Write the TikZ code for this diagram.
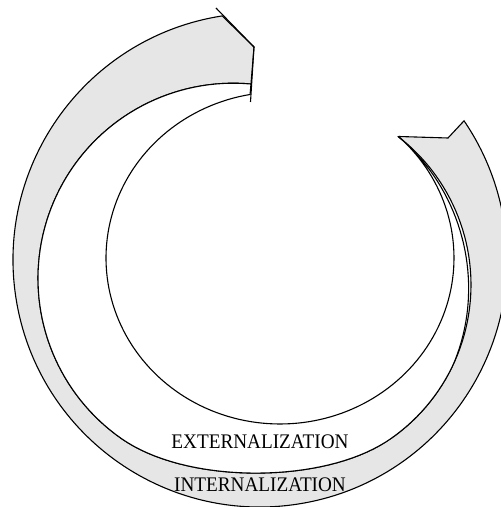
\documentclass[tikz,border=0pt]{standalone}
\usepackage{fontspec}
\setmainfont{Liberation Serif}
\usepackage{xcolor}
\usetikzlibrary{positioning}
\definecolor{bandgray}{HTML}{E6E6E6}

\tikzset{
  band/.style={draw=black, line width=1.1pt},
  cyclelabel/.style={font=\fontsize{19.2}{21}\selectfont, inner sep=0pt, yscale=1.08}
}

\begin{document}
\begin{tikzpicture}[x=1pt, y=1pt,
    declare function={
      wgt(\t) = (1-cos(180*min(1,max(0,(\t-235)/70))))/2;
      mx(\t)  = (1-wgt(\t))*(233.3+195.3*cos(\t)) + wgt(\t)*(283.5+187.5*cos(\t));
      my(\t)  = (1-wgt(\t))*(228.5+195.3*sin(\t)) + wgt(\t)*(222.1+187.5*sin(\t));
      gap(\t) = 2.8*sin(180*min(1,max(0,(\t-335)/77.2)));
    }]
  \path[use as bounding box] (0,0) rectangle (501,507);
  \clip (0,0) rectangle (501,507);
  \coordinate (co) at (260,247);
  \coordinate (headtip) at (448,369);
  \coordinate (tip) at (399,370.5);
  \coordinate (tailcorner) at (254,460);

  % outer arrow
  \filldraw[band, fill=bandgray]
    ([shift={(co)}]98.8:247) arc[start angle=98.8, end angle=394.3, radius=247]
    -- (headtip) -- (tip)
    -- plot[domain=412.2:84.8, samples=160, variable=\t] ({mx(\t)}, {my(\t)})
    -- (tailcorner) -- cycle;
  \draw[band] (tailcorner) -- (216,499);

  % inner arrow
  \filldraw[band, fill=white]
    plot[domain=84.8:412.2, samples=160, variable=\t]
      ({mx(\t)-gap(\t)*cos(\t)}, {my(\t)-gap(\t)*sin(\t)})
    -- (tip)
    -- plot[domain=406.8:99.9, samples=160, variable=\t]
         ({280+174*cos(\t)}, {249+166*sin(\t)})
    -- cycle;
  \draw[band] (tailcorner) -- (250.5,405);

  \node[cyclelabel] (ext) at (260,65) {EXTERNALIZATION};
  \node[cyclelabel] (int) at (260,22) {INTERNALIZATION};
\end{tikzpicture}
\end{document}
